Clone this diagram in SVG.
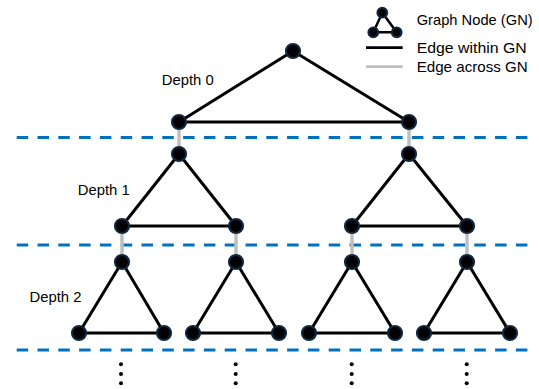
<svg xmlns="http://www.w3.org/2000/svg" width="539" height="389" viewBox="0 0 539 389">
<style>
.bg{fill:#ffffff}
.sep{stroke:#0070C0;stroke-width:3;stroke-dasharray:11.5 9.3;fill:none}
.across{stroke:#BFBFBF;stroke-width:3.5;fill:none}
.within{stroke:#000000;stroke-width:3;fill:none;stroke-linejoin:round}
.nd{fill:#000000;stroke:#0E2841;stroke-width:2.2}
.lbl{font-family:"Liberation Sans",Arial,sans-serif;font-size:15px;fill:#000000}
.dot{fill:#000000}
</style>
<rect class="bg" x="0" y="0" width="539" height="389"/>
<g id="separators">
<line class="sep" x1="16.7" y1="137.5" x2="534" y2="137.5"/>
<line class="sep" x1="16.7" y1="245" x2="534" y2="245"/>
<line class="sep" x1="16.7" y1="350" x2="534" y2="350"/>
</g>
<g id="connectors">
<g id="across-edges">
<line class="across" x1="179" y1="122" x2="179" y2="154"/>
<line class="across" x1="409" y1="122" x2="409" y2="154"/>
<line class="across" x1="122" y1="226" x2="122" y2="262"/>
<line class="across" x1="236" y1="226" x2="236" y2="262"/>
<line class="across" x1="352" y1="226" x2="352" y2="262"/>
<line class="across" x1="467" y1="226" x2="467" y2="262"/>
</g>
<g id="within-edges">
<polygon class="within" points="293,51 179,122 409,122"/>
<polygon class="within" points="179,154 122,226 236,226"/>
<polygon class="within" points="409,154 352,226 467,226"/>
<polygon class="within" points="122,262 79,333 164,333"/>
<polygon class="within" points="236,262 193,333 279,333"/>
<polygon class="within" points="352,262 309,333 395,333"/>
<polygon class="within" points="467,262 424,333 510,333"/>
</g>
</g>
<g id="gn-depth0">
<circle class="nd" cx="293" cy="51" r="7"/>
<circle class="nd" cx="179" cy="122" r="7"/>
<circle class="nd" cx="409" cy="122" r="7"/>
</g>
<g id="gn-depth1-left">
<circle class="nd" cx="179" cy="154" r="7"/>
<circle class="nd" cx="122" cy="226" r="7"/>
<circle class="nd" cx="236" cy="226" r="7"/>
</g>
<g id="gn-depth1-right">
<circle class="nd" cx="409" cy="154" r="7"/>
<circle class="nd" cx="352" cy="226" r="7"/>
<circle class="nd" cx="467" cy="226" r="7"/>
</g>
<g id="gn-depth2-1">
<circle class="nd" cx="122" cy="262" r="7"/>
<circle class="nd" cx="79" cy="333" r="7"/>
<circle class="nd" cx="164" cy="333" r="7"/>
</g>
<g id="gn-depth2-2">
<circle class="nd" cx="236" cy="262" r="7"/>
<circle class="nd" cx="193" cy="333" r="7"/>
<circle class="nd" cx="279" cy="333" r="7"/>
</g>
<g id="gn-depth2-3">
<circle class="nd" cx="352" cy="262" r="7"/>
<circle class="nd" cx="309" cy="333" r="7"/>
<circle class="nd" cx="395" cy="333" r="7"/>
</g>
<g id="gn-depth2-4">
<circle class="nd" cx="467" cy="262" r="7"/>
<circle class="nd" cx="424" cy="333" r="7"/>
<circle class="nd" cx="510" cy="333" r="7"/>
</g>
<g id="depth-labels">
<text class="lbl" x="161.7" y="85" textLength="52" lengthAdjust="spacingAndGlyphs">Depth 0</text>
<text class="lbl" x="77.7" y="195" textLength="52" lengthAdjust="spacingAndGlyphs">Depth 1</text>
<text class="lbl" x="29.5" y="302" textLength="52" lengthAdjust="spacingAndGlyphs">Depth 2</text>
</g>
<g id="continuation-dots">
<circle class="dot" cx="121" cy="364.3" r="2"/><circle class="dot" cx="121" cy="374" r="2"/><circle class="dot" cx="121" cy="383.3" r="2"/>
<circle class="dot" cx="235.7" cy="364.3" r="2"/><circle class="dot" cx="235.7" cy="374" r="2"/><circle class="dot" cx="235.7" cy="383.3" r="2"/>
<circle class="dot" cx="351.7" cy="364.3" r="2"/><circle class="dot" cx="351.7" cy="374" r="2"/><circle class="dot" cx="351.7" cy="383.3" r="2"/>
<circle class="dot" cx="466.7" cy="364.3" r="2"/><circle class="dot" cx="466.7" cy="374" r="2"/><circle class="dot" cx="466.7" cy="383.3" r="2"/>
</g>
<g id="legend">
<polygon points="382.3,12.7 373.3,32.3 396.7,32.3" fill="none" stroke="#000000" stroke-width="2.5" stroke-linejoin="round"/>
<circle class="nd" cx="382.3" cy="12.7" r="4.8" stroke-width="1.8"/>
<circle class="nd" cx="373.3" cy="32.3" r="4.8" stroke-width="1.8"/>
<circle class="nd" cx="396.7" cy="32.3" r="4.8" stroke-width="1.8"/>
<line x1="366" y1="47.7" x2="402.7" y2="47.7" stroke="#000000" stroke-width="2.8"/>
<line x1="366" y1="66.7" x2="402.7" y2="66.7" stroke="#BFBFBF" stroke-width="2.8"/>
<text class="lbl" x="416.7" y="25" textLength="116" lengthAdjust="spacingAndGlyphs">Graph Node (GN)</text>
<text class="lbl" x="416.7" y="52.7" textLength="110" lengthAdjust="spacingAndGlyphs">Edge within GN</text>
<text class="lbl" x="416.7" y="71.7" textLength="111" lengthAdjust="spacingAndGlyphs">Edge across GN</text>
</g>
</svg>
